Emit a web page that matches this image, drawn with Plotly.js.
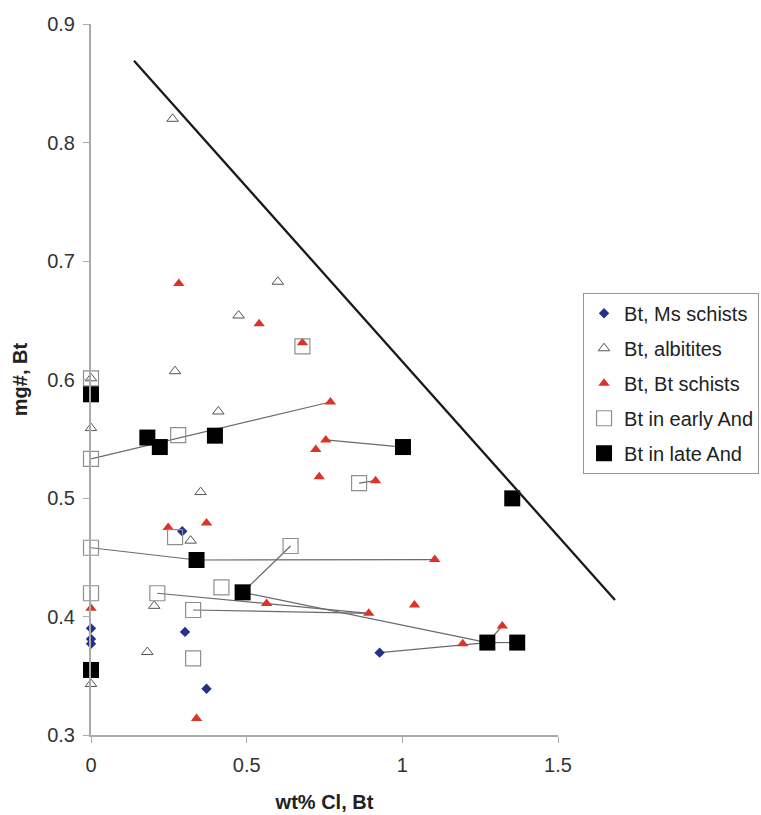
<!DOCTYPE html>
<html>
<head>
<meta charset="utf-8">
<script src="https://cdn.plot.ly/plotly-3.0.1.min.js"></script>
<style>html,body{margin:0;padding:0;background:#fff;}</style>
</head>
<body>
<div id="chart" style="width:761px;height:815px;"></div>
<script>
// Bt, Ms schists
const msX = [0, 0, 0, 0.293, 0.302, 0.371, 0.927];
const msY = [0.390, 0.381, 0.377, 0.472, 0.387, 0.339, 0.3695];
// Bt, albitites
const albX = [0.262, 0.600, 0.474, 0.270, 0, 0, 0.409, 0.352, 0.320, 0.203, 0.181, 0];
const albY = [0.820, 0.6825, 0.654, 0.607, 0.601, 0.559, 0.573, 0.505, 0.464, 0.409, 0.370, 0.343];
// Bt, Bt schists
const btX = [0.282, 0.540, 0.679, 0.769, 0.754, 0.722, 0.733, 0.914, 0.371, 0.248, 1.104, 0.564, 0, 1.039, 0.892, 1.321, 1.194, 0.339];
const btY = [0.681, 0.647, 0.631, 0.581, 0.549, 0.541, 0.518, 0.5146, 0.479, 0.475, 0.448, 0.411, 0.407, 0.4097, 0.4027, 0.392, 0.377, 0.314];
// Bt in early And
const earlyX = [0, 0.280, 0, 0.679, 0.861, 0.270, 0, 0.641, 0.419, 0.213, 0, 0.328, 0.328];
const earlyY = [0.601, 0.553, 0.533, 0.628, 0.5125, 0.467, 0.458, 0.4595, 0.4246, 0.4196, 0.4196, 0.4055, 0.3647];
// Bt in late And
const lateX = [0, 0.181, 0.221, 0.398, 1.002, 1.353, 0.339, 0.487, 1.273, 1.369, 0];
const lateY = [0.5875, 0.551, 0.543, 0.5526, 0.543, 0.4997, 0.4477, 0.4204, 0.378, 0.378, 0.3549];
// tie lines between related analyses (null separates segments)
const tieX = [0, 0.769, null, 0, 0.339, 1.104, null, 0.641, 0.487, 1.273, null, 0.213, 0.892, null,
              0.328, 0.892, null, 0.927, 1.273, null, 1.273, 1.369, null, 1.273, 1.321, null,
              0.754, 1.002, null, 0.861, 0.914];
const tieY = [0.533, 0.581, null, 0.458, 0.4477, 0.448, null, 0.4595, 0.4204, 0.378, null, 0.4196, 0.4027, null,
              0.4055, 0.4027, null, 0.3695, 0.378, null, 0.378, 0.378, null, 0.378, 0.392, null,
              0.549, 0.543, null, 0.5125, 0.5146];
// boundary line
const diagX = [0.138, 1.681];
const diagY = [0.869, 0.414];

const FONT = 'Liberation Sans, Arial, sans-serif';

const traces = [
  {x: tieX, y: tieY, mode: 'lines', line: {color: '#6a6a6a', width: 1.2}, showlegend: false, hoverinfo: 'skip', cliponaxis: false},
  {x: msX, y: msY, mode: 'markers', name: 'Bt, Ms schists', legendgroup: 'a',
   marker: {symbol: 'diamond', size: 8, color: '#22318a', line: {width: 0}}, cliponaxis: false},
  {x: albX, y: albY, mode: 'markers', name: 'Bt, albitites', legendgroup: 'b',
   marker: {symbol: 'triangle-up', size: 10, color: 'rgba(255,255,255,0)', line: {color: '#555', width: 1}}, cliponaxis: false},
  {x: btX, y: btY, mode: 'markers', name: 'Bt, Bt schists', legendgroup: 'c',
   marker: {symbol: 'triangle-up', size: 10, color: '#dc3328', line: {width: 0}}, cliponaxis: false},
  {x: earlyX, y: earlyY, mode: 'markers', name: 'Bt in early And', legendgroup: 'd',
   marker: {symbol: 'square', size: 15, color: 'rgba(255,255,255,0)', line: {color: '#8f8f8f', width: 1.2}}, cliponaxis: false},
  {x: lateX, y: lateY, mode: 'markers', name: 'Bt in late And', legendgroup: 'e',
   marker: {symbol: 'square', size: 16, color: '#000', line: {width: 0}}, cliponaxis: false},
  {x: diagX, y: diagY, xaxis: 'x2', yaxis: 'y', mode: 'lines', line: {color: '#1a1a1a', width: 2.3}, showlegend: false, hoverinfo: 'skip'}
];

const axFont = {family: FONT, size: 20, color: '#333'};

const layout = {
  width: 761, height: 815,
  margin: {l: 91, r: 134, t: 24, b: 80, autoexpand: false},
  paper_bgcolor: '#fff', plot_bgcolor: 'rgba(0,0,0,0)',
  font: {family: FONT, color: '#333'},
  xaxis: {
    domain: [0, 0.8713], range: [0, 1.5], anchor: 'y',
    showline: true, linecolor: '#aaa', linewidth: 2,
    ticks: 'outside', ticklen: 6, tickcolor: '#aaa', tickwidth: 1,
    tickvals: [0, 0.5, 1, 1.5], tickfont: axFont, ticklabelstandoff: 5,
    showgrid: false, zeroline: false,
    title: {text: '<b>wt% Cl, Bt</b>', font: {family: FONT, size: 20, color: '#222'}, standoff: 20}
  },
  xaxis2: {domain: [0, 1], range: [0, 1.7196], anchor: 'y', visible: false, showgrid: false, zeroline: false},
  yaxis: {
    range: [0.3, 0.9], anchor: 'x', dtick: 0.1, tick0: 0.3, tickformat: '.1f',
    showline: true, linecolor: '#aaa', linewidth: 2,
    ticks: 'outside', ticklen: 6, tickcolor: '#aaa', tickwidth: 1,
    tickfont: axFont, ticklabelstandoff: 4,
    showgrid: false, zeroline: false,
    title: {text: '<b>mg#, Bt</b>', font: {family: FONT, size: 20, color: '#222'}, standoff: 14}
  },
  legend: {
    x: 0.918, y: 0.622, xanchor: 'left', yanchor: 'top',
    font: {family: FONT, size: 20, color: '#222'},
    bgcolor: '#fff', bordercolor: '#999', borderwidth: 1,
    tracegroupgap: 6, traceorder: 'grouped'
  },
  showlegend: true
};

Plotly.newPlot('chart', traces, layout, {displayModeBar: false, staticPlot: true});
</script>
</body>
</html>
